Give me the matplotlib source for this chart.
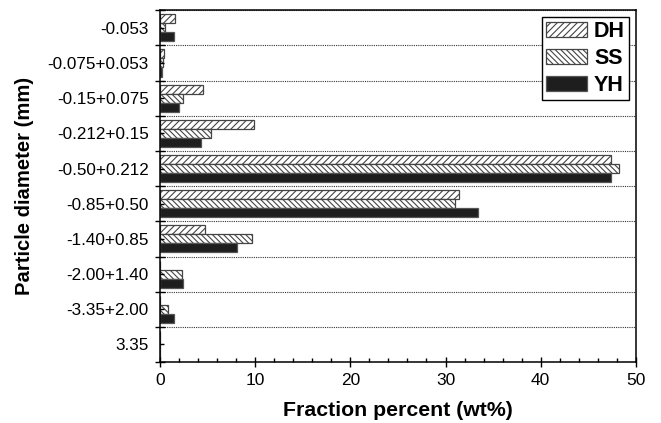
import numpy as np
import matplotlib.pyplot as plt
from matplotlib.ticker import MultipleLocator

plt.rcParams['font.family'] = ['Liberation Sans', 'DejaVu Sans']
plt.rcParams['hatch.linewidth'] = 0.8

sizes = ['-0.053', '-0.075+0.053', '-0.15+0.075', '-0.212+0.15', '-0.50+0.212',
         '-0.85+0.50', '-1.40+0.85', '-2.00+1.40', '-3.35+2.00', '3.35']
dh = [1.6, 0.4, 4.5, 9.9, 47.4, 31.4, 4.7, 0.0, 0.0, 0.0]
ss = [0.5, 0.3, 2.4, 5.4, 48.2, 31.0, 9.7, 2.3, 0.8, 0.0]
yh = [1.5, 0.2, 2.0, 4.3, 47.4, 33.4, 8.1, 2.4, 1.5, 0.0]

fig = plt.figure(figsize=(6.61, 4.23), dpi=100)
ax = fig.add_axes([0.242, 0.144, 0.72, 0.832])

y = np.arange(len(sizes))
h = 0.257
ax.barh(y - h, dh, height=h, color='white', edgecolor='#444444', hatch='/////', lw=0.9, label='DH')
ax.barh(y, ss, height=h, color='white', edgecolor='#444444', hatch='\\\\\\\\\\\\', lw=0.9, label='SS')
ax.barh(y + h, yh, height=h, color='#1e1e1e', edgecolor='#555555', lw=0.9, label='YH')

ax.set_xlim(0, 50)
ax.set_ylim(len(sizes) - 0.5, -0.5)
ax.xaxis.set_major_locator(MultipleLocator(10))
ax.xaxis.set_minor_locator(MultipleLocator(2))
ax.set_yticks(np.arange(-0.5, len(sizes), 1.0))
ax.set_yticklabels([])
ax.set_yticks(y, minor=True)
ax.set_yticklabels(sizes, minor=True)
ax.grid(axis='y', which='major', linestyle=(0, (1, 1)), color='#333333', lw=0.8)

ax.tick_params(axis='x', which='major', direction='inout', length=7, width=1, labelsize=12.5, pad=4)
ax.tick_params(axis='x', which='minor', direction='in', length=3, width=1)
ax.tick_params(axis='y', which='major', direction='inout', length=7, width=1)
ax.tick_params(axis='y', which='minor', direction='in', length=3, width=1, labelsize=12.3, pad=8)
for s in ax.spines.values():
    s.set_linewidth(1.1)

ax.set_xlabel('Fraction percent (wt%)', fontsize=15.3, fontweight='bold', labelpad=10)
ax.set_ylabel('Particle diameter (mm)', fontsize=14.6, fontweight='bold', labelpad=10)

leg = ax.legend(loc='upper right', fancybox=False, edgecolor='black', framealpha=1,
                prop={'size': 15.5, 'weight': 'bold'}, handlelength=1.9, handleheight=0.72,
                handletextpad=0.33, labelspacing=0.28, borderpad=0.2, borderaxespad=0.3)
leg.get_frame().set_linewidth(1.0)

fig.savefig('out.png', dpi=100)
